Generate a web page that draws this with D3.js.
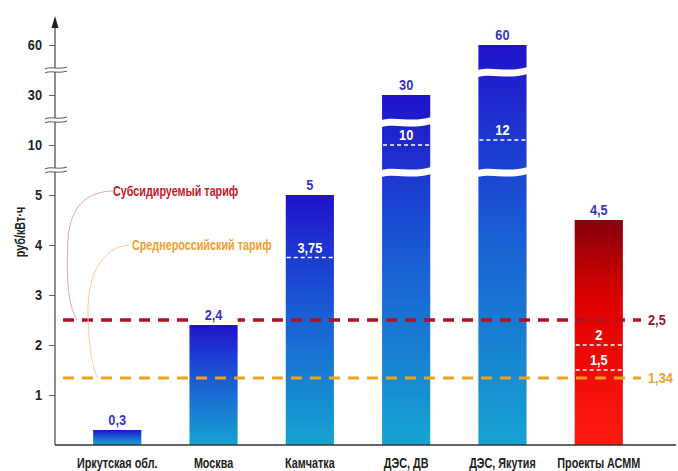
<!DOCTYPE html>
<html>
<head>
<meta charset="utf-8">
<script src="https://cdn.jsdelivr.net/npm/d3@7"></script>
<style>
  body { margin: 0; background: #fff; }
  text { font-family: 'Liberation Sans', Arial, sans-serif; font-weight: bold; }
</style>
</head>
<body>
<div id="chart"></div>
<script>
// Data
const categories = ['Иркутская обл.', 'Москва', 'Камчатка', 'ДЭС, ДВ', 'ДЭС, Якутия', 'Проекты АСММ'];
const values = [0.3, 2.4, 5, 30, 60, 4.5];
const innerMarks = [[], [], [3.75], [10], [12], [2, 1.5]];
const barBreaks = [[], [], [], [20, 7.5], [45, 7.5], []];
const isProject = [false, false, false, false, false, true];
const yTicks = [1, 2, 3, 4, 5, 10, 30, 60];
const axisBreaks = [45, 20, 7.5];
const subsidized = 2.5;
const average = 1.34;

const width = 678;
const height = 471;

const locale = d3.formatLocale({ decimal: ',', thousands: ' ', grouping: [3], currency: ['', ''] });
const fmt = v => locale.format('~g')(v);

// squeeze text horizontally to mimic a condensed face
function condense(sel, k) {
  sel.each(function () {
    const t = d3.select(this);
    const tx = +t.attr('x') || 0;
    const ty = +t.attr('y') || 0;
    const prev = t.attr('transform') || '';
    t.attr('x', 0).attr('y', 0)
      .attr('transform', `${prev} translate(${tx},${ty}) scale(${k},1)`);
  });
}

const svg = d3.select('#chart')
  .append('svg')
  .attr('width', width)
  .attr('height', height);

// Scales: piecewise y with broken segments
const x = d3.scaleBand()
  .domain(categories)
  .range([45, 671])
  .paddingInner(0.5)
  .paddingOuter(0.5);

const y = d3.scaleLinear()
  .domain([0, 5, 10, 30, 60])
  .range([445, 195, 145, 95, 45]);

const x0 = 55;
const xEnd = 676;

// Gradients
const defs = svg.append('defs');
const blue = defs.append('linearGradient').attr('id', 'blueGrad')
  .attr('x1', 0).attr('y1', 0).attr('x2', 0).attr('y2', 1);
blue.append('stop').attr('offset', 0).attr('stop-color', '#2012cc');
blue.append('stop').attr('offset', 0.45).attr('stop-color', '#1a5ad4');
blue.append('stop').attr('offset', 1).attr('stop-color', '#16a4d2');
const red = defs.append('linearGradient').attr('id', 'redGrad')
  .attr('x1', 0).attr('y1', 0).attr('x2', 0).attr('y2', 1);
red.append('stop').attr('offset', 0).attr('stop-color', '#85000a');
red.append('stop').attr('offset', 0.35).attr('stop-color', '#de0000');
red.append('stop').attr('offset', 1).attr('stop-color', '#ff1a10');

const bars = categories.map((c, i) => ({
  category: c, value: values[i], marks: innerMarks[i], breaks: barBreaks[i], project: isProject[i]
}));

// Bars
svg.selectAll('.bar')
  .data(bars)
  .enter()
  .append('rect')
  .attr('class', 'bar')
  .attr('x', d => x(d.category))
  .attr('width', x.bandwidth())
  .attr('y', d => y(d.value))
  .attr('height', d => y(0) - y(d.value))
  .attr('fill', d => d.project ? 'url(#redGrad)' : 'url(#blueGrad)');

// White wavy gaps where bars cross the axis breaks
const bw = x.bandwidth();
bars.forEach(d => {
  const bx = x(d.category);
  d.breaks.forEach(b => {
    const by = y(b) + 1;
    const p = d3.path();
    p.moveTo(bx - 1, by - 1);
    p.bezierCurveTo(bx + bw * 0.3, by - 5, bx + bw * 0.6, by + 2, bx + bw + 1, by - 4);
    p.lineTo(bx + bw + 1, by + 3);
    p.bezierCurveTo(bx + bw * 0.6, by + 9, bx + bw * 0.3, by + 2, bx - 1, by + 6);
    p.closePath();
    svg.append('path').attr('d', p.toString()).attr('fill', '#fff');
  });
});

// Inner dashed marks with labels
bars.forEach(d => {
  const bx = x(d.category);
  d.marks.forEach(m => {
    svg.append('line')
      .attr('x1', bx + 1).attr('x2', bx + bw - 1)
      .attr('y1', y(m)).attr('y2', y(m))
      .attr('stroke', '#fff').attr('stroke-width', 1.3)
      .attr('stroke-dasharray', '4,3');
    svg.append('text')
      .attr('class', 'num')
      .attr('x', bx + bw / 2).attr('y', y(m) - 5)
      .attr('text-anchor', 'middle')
      .attr('font-size', 14.5)
      .attr('fill', '#fff')
      .text(fmt(m));
  });
});

// Tariff lines
const tariffs = [
  { value: subsidized, color: '#b01020', label: '#a01828', w: 3.6 },
  { value: average, color: '#f5a01a', label: '#f0a030', w: 3.2 }
];
tariffs.forEach(t => {
  svg.append('line')
    .attr('x1', 63).attr('x2', 641)
    .attr('y1', y(t.value)).attr('y2', y(t.value))
    .attr('stroke', t.color).attr('stroke-width', t.w)
    .attr('stroke-dasharray', '11,8');
  svg.append('text')
    .attr('class', 'num')
    .attr('x', 648).attr('y', y(t.value) + 5)
    .attr('font-size', 14.5)
    .attr('fill', t.label)
    .text(fmt(t.value));
});

// Value labels, on a white patch so the tariff lines do not run through them
svg.selectAll('.valueBg')
  .data(bars)
  .enter()
  .append('rect')
  .attr('class', 'valueBg')
  .attr('x', d => x(d.category))
  .attr('width', bw)
  .attr('y', d => y(d.value) - 17)
  .attr('height', 16)
  .attr('fill', '#fff');
svg.selectAll('.value')
  .data(bars)
  .enter()
  .append('text')
  .attr('class', 'value num')
  .attr('x', d => x(d.category) + bw / 2)
  .attr('y', d => y(d.value) - 5)
  .attr('text-anchor', 'middle')
  .attr('font-size', 14.5)
  .attr('fill', '#3a32c4')
  .text(d => fmt(d.value));

// Callouts
svg.append('path')
  .attr('d', `M112,191 C88,192 70,205 68,240 C66,280 68,305 77,${y(subsidized)}`)
  .attr('fill', 'none').attr('stroke', '#e4a4ac').attr('stroke-width', 1);
svg.append('path')
  .attr('d', `M129,245 C102,247 88,275 88,310 C88,345 92,362 97,${y(average)}`)
  .attr('fill', 'none').attr('stroke', '#f8cc98').attr('stroke-width', 1);
svg.append('text')
  .attr('class', 'word')
  .attr('x', 113).attr('y', 196)
  .attr('font-size', 15)
  .attr('fill', '#c8182c')
  .text('Субсидируемый тариф');
svg.append('text')
  .attr('class', 'word')
  .attr('x', 132).attr('y', 250)
  .attr('font-size', 15)
  .attr('fill', '#f0a030')
  .text('Среднероссийский тариф');

// Y axis
const yAxis = svg.append('g')
  .attr('transform', `translate(${x0},0)`)
  .call(d3.axisLeft(y).tickValues(yTicks).tickSize(6).tickPadding(7).tickSizeOuter(0).tickFormat(fmt));
yAxis.select('.domain').remove();
yAxis.selectAll('line').attr('stroke', '#666');
yAxis.selectAll('text').attr('class', 'num').attr('font-size', 14.5).attr('fill', '#222')
  .attr('font-family', null);

svg.append('line')
  .attr('x1', x0).attr('x2', x0).attr('y1', y(0)).attr('y2', 24)
  .attr('stroke', '#444').attr('stroke-width', 1.2);
svg.append('path')
  .attr('d', `M${x0},16 L${x0 - 3.5},28 L${x0 + 3.5},28 Z`)
  .attr('fill', '#222');

// Axis break marks
axisBreaks.forEach(b => {
  const by = y(b);
  svg.append('rect').attr('x', x0 - 3).attr('y', by - 2).attr('width', 6).attr('height', 4).attr('fill', '#fff');
  [-2, 2].forEach(o => {
    svg.append('path')
      .attr('d', `M45,${by + o + 1} C50,${by + o - 2} 58,${by + o + 2} 67,${by + o - 1}`)
      .attr('fill', 'none').attr('stroke', '#555').attr('stroke-width', 1);
  });
});

// X axis
svg.append('line')
  .attr('x1', x0).attr('x2', xEnd).attr('y1', y(0)).attr('y2', y(0))
  .attr('stroke', '#333').attr('stroke-width', 1.5);
const xAxis = svg.append('g')
  .attr('transform', `translate(0,${y(0)})`)
  .call(d3.axisBottom(x).tickSize(0));
xAxis.select('.domain').remove();
xAxis.selectAll('text')
  .attr('class', 'word')
  .attr('y', 23).attr('dy', null)
  .attr('font-family', null)
  .attr('font-size', 15).attr('fill', '#222');

// Y axis title
svg.append('text')
  .attr('class', 'word')
  .attr('transform', 'translate(25,232) rotate(-90)')
  .attr('text-anchor', 'middle')
  .attr('font-size', 15)
  .attr('fill', '#222')
  .text('руб/кВт·ч');

condense(svg.selectAll('text.word'), 0.72);
condense(svg.selectAll('text.num'), 0.88);
</script>
</body>
</html>
